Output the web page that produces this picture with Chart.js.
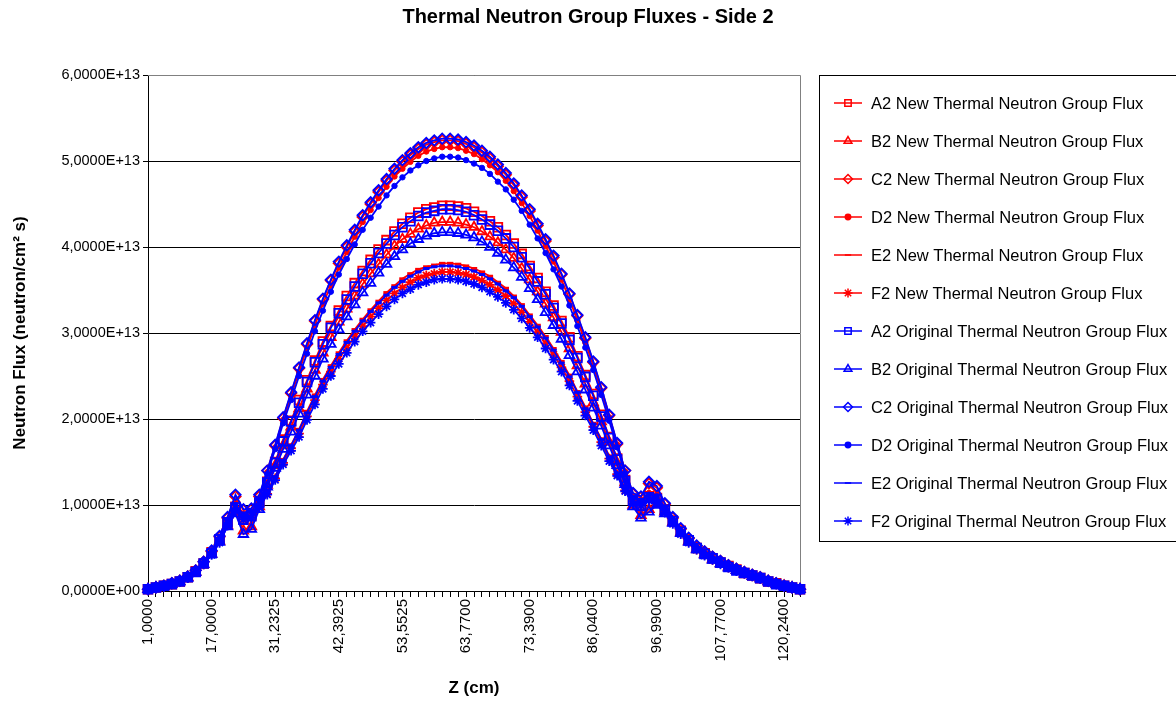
<!DOCTYPE html>
<html>
<head>
<meta charset="utf-8">
<script src="https://cdn.jsdelivr.net/npm/chart.js@4.4.0/dist/chart.umd.min.js"></script>
<style>
  html, body { margin: 0; padding: 0; background: #fff; }
  #wrap { width: 1176px; height: 701px; }
</style>
</head>
<body>
<div id="wrap"><canvas id="fluxChart"></canvas></div>
<script>
// Z positions shown on the axis (every 8th mesh point)
const zLabels = ['1,0000', '17,0000', '31,2325', '42,3925', '53,5525', '63,7700',
    '73,3900', '86,0400', '96,9900', '107,7700', '120,2400'];
const pointCount = 83;

// flux values in units of 1E+13 neutron/cm2 s
const a2New = [0.02,0.04,0.06,0.08,0.11,0.16,0.23,0.32,0.45,
    0.60,0.80,0.98,0.84,0.88,1.04,
    1.27,1.50,1.76,1.98,2.22,2.45,2.68,2.90,3.08,3.26,3.43,3.58,3.72,3.85,3.97,4.08,4.18,4.27,4.34,4.40,4.44,4.46,4.48,
    4.48,4.47,4.45,4.41,4.36,4.30,4.23,4.14,4.04,3.92,3.78,3.64,3.48,3.32,3.14,2.95,2.73,2.51,2.29,2.05,1.79,1.54,1.29,
    1.06,1.00,1.10,1.08,0.95,0.82,
    0.70,0.59,0.50,0.44,0.38,0.33,0.29,0.25,0.21,0.18,0.15,0.11,0.09,0.06,0.04,0.02];
const b2New = [0.02,0.04,0.05,0.08,0.11,0.16,0.22,0.31,0.43,
    0.58,0.76,0.92,0.70,0.75,0.98,
    1.23,1.46,1.69,1.91,2.12,2.35,2.57,2.77,2.95,3.13,3.28,3.43,3.57,3.69,3.80,3.91,4.01,4.09,4.15,4.21,4.25,4.28,4.29,
    4.29,4.28,4.26,4.23,4.18,4.12,4.05,3.97,3.87,3.75,3.62,3.48,3.34,3.18,3.01,2.82,2.62,2.41,2.19,1.97,1.73,1.49,1.26,
    1.00,0.88,0.95,1.02,0.92,0.80,
    0.68,0.58,0.49,0.43,0.37,0.32,0.28,0.24,0.20,0.17,0.15,0.11,0.08,0.06,0.04,0.02];
const c2New = [0.02,0.04,0.06,0.09,0.12,0.17,0.24,0.34,0.46,
    0.63,0.85,1.10,0.94,0.95,1.10,
    1.40,1.69,2.01,2.30,2.59,2.87,3.14,3.39,3.61,3.81,4.00,4.18,4.35,4.50,4.64,4.77,4.89,4.99,5.07,5.14,5.19,5.22,5.24,
    5.24,5.23,5.20,5.16,5.10,5.03,4.94,4.84,4.72,4.58,4.42,4.25,4.07,3.88,3.68,3.45,3.20,2.94,2.66,2.36,2.04,1.71,1.40,
    1.13,1.09,1.25,1.20,1.01,0.85,
    0.72,0.61,0.52,0.46,0.40,0.35,0.30,0.26,0.22,0.19,0.16,0.12,0.09,0.06,0.04,0.02];
const d2New = [0.02,0.04,0.06,0.09,0.12,0.16,0.23,0.33,0.46,
    0.62,0.83,1.02,0.90,0.93,1.08,
    1.38,1.67,1.99,2.27,2.55,2.83,3.09,3.34,3.55,3.76,3.94,4.12,4.29,4.43,4.57,4.70,4.82,4.91,4.99,5.06,5.11,5.14,5.16,
    5.16,5.15,5.12,5.08,5.02,4.95,4.87,4.77,4.65,4.51,4.36,4.19,4.01,3.83,3.62,3.39,3.15,2.89,2.62,2.33,2.02,1.70,1.39,
    1.10,1.06,1.14,1.12,0.98,0.84,
    0.71,0.60,0.52,0.45,0.39,0.34,0.29,0.25,0.21,0.18,0.15,0.12,0.09,0.06,0.04,0.02];
const e2New = [0.02,0.04,0.06,0.08,0.11,0.16,0.22,0.32,0.44,
    0.58,0.78,0.96,0.86,0.88,1.00,
    1.15,1.33,1.53,1.70,1.88,2.09,2.28,2.46,2.62,2.77,2.91,3.04,3.16,3.27,3.37,3.47,3.55,3.63,3.69,3.74,3.77,3.79,3.81,
    3.81,3.80,3.78,3.75,3.71,3.66,3.59,3.52,3.43,3.33,3.21,3.09,2.96,2.82,2.67,2.51,2.32,2.14,1.95,1.77,1.57,1.38,1.19,
    1.04,1.02,1.08,1.06,0.94,0.80,
    0.68,0.58,0.49,0.43,0.37,0.33,0.28,0.24,0.20,0.18,0.15,0.11,0.08,0.06,0.04,0.02];
const f2New = [0.02,0.04,0.05,0.08,0.11,0.15,0.22,0.31,0.43,
    0.57,0.77,0.94,0.84,0.86,0.98,
    1.13,1.31,1.49,1.66,1.83,2.03,2.22,2.40,2.55,2.70,2.83,2.96,3.08,3.19,3.29,3.38,3.46,3.53,3.59,3.64,3.67,3.69,3.71,
    3.71,3.70,3.68,3.65,3.61,3.56,3.50,3.43,3.34,3.24,3.13,3.01,2.88,2.75,2.60,2.44,2.26,2.08,1.91,1.73,1.54,1.36,1.17,
    1.02,1.00,1.06,1.04,0.92,0.79,
    0.67,0.57,0.48,0.42,0.36,0.32,0.27,0.24,0.20,0.17,0.14,0.11,0.08,0.05,0.04,0.02];

const a2Orig = [0.02,0.04,0.06,0.08,0.11,0.16,0.22,0.32,0.44,
    0.60,0.80,0.97,0.83,0.87,1.03,
    1.26,1.49,1.74,1.97,2.19,2.43,2.66,2.87,3.06,3.23,3.39,3.54,3.69,3.81,3.93,4.04,4.14,4.23,4.30,4.36,4.40,4.42,4.44,
    4.44,4.43,4.41,4.37,4.32,4.26,4.19,4.10,4.00,3.88,3.75,3.60,3.45,3.29,3.11,2.92,2.71,2.49,2.27,2.03,1.78,1.53,1.28,
    1.05,0.99,1.09,1.07,0.94,0.81,
    0.69,0.59,0.50,0.43,0.38,0.33,0.28,0.24,0.21,0.18,0.15,0.11,0.08,0.06,0.04,0.02];
const b2Orig = [0.02,0.04,0.05,0.08,0.11,0.15,0.22,0.31,0.43,
    0.57,0.75,0.90,0.66,0.72,0.95,
    1.21,1.43,1.65,1.85,2.06,2.28,2.50,2.70,2.87,3.04,3.19,3.33,3.47,3.58,3.70,3.80,3.89,3.97,4.04,4.09,4.13,4.16,4.17,
    4.17,4.16,4.14,4.11,4.06,4.00,3.93,3.85,3.76,3.65,3.52,3.39,3.24,3.09,2.93,2.74,2.55,2.34,2.13,1.92,1.69,1.46,1.24,
    0.98,0.85,0.92,1.00,0.90,0.79,
    0.67,0.57,0.48,0.42,0.36,0.32,0.27,0.24,0.20,0.17,0.14,0.11,0.08,0.05,0.04,0.02];
const c2Orig = [0.02,0.04,0.06,0.09,0.12,0.17,0.24,0.34,0.47,
    0.64,0.86,1.12,0.95,0.96,1.12,
    1.40,1.70,2.02,2.31,2.60,2.88,3.15,3.40,3.62,3.83,4.02,4.20,4.37,4.52,4.66,4.79,4.91,5.01,5.09,5.16,5.21,5.24,5.26,
    5.26,5.25,5.22,5.18,5.12,5.05,4.96,4.86,4.74,4.60,4.44,4.27,4.09,3.90,3.69,3.46,3.21,2.95,2.67,2.37,2.05,1.72,1.40,
    1.14,1.10,1.27,1.22,1.02,0.86,
    0.73,0.62,0.53,0.46,0.40,0.35,0.30,0.26,0.22,0.19,0.16,0.12,0.09,0.06,0.04,0.02];
const d2Orig = [0.02,0.04,0.06,0.09,0.11,0.16,0.23,0.33,0.45,
    0.61,0.82,1.00,0.89,0.92,1.06,
    1.36,1.65,1.95,2.22,2.50,2.76,3.02,3.26,3.48,3.68,3.86,4.03,4.20,4.34,4.47,4.60,4.71,4.81,4.89,4.95,5.00,5.03,5.05,
    5.05,5.04,5.01,4.97,4.92,4.85,4.76,4.67,4.55,4.42,4.26,4.10,3.93,3.74,3.54,3.32,3.08,2.83,2.57,2.28,1.98,1.67,1.37,
    1.08,1.05,1.12,1.10,0.97,0.83,
    0.70,0.60,0.51,0.44,0.38,0.34,0.29,0.25,0.21,0.18,0.15,0.12,0.09,0.06,0.04,0.02];
const e2Orig = [0.02,0.04,0.05,0.08,0.11,0.16,0.22,0.31,0.43,
    0.58,0.78,0.95,0.85,0.87,0.99,
    1.14,1.33,1.52,1.69,1.87,2.07,2.26,2.44,2.60,2.75,2.89,3.02,3.14,3.25,3.35,3.44,3.53,3.60,3.66,3.71,3.75,3.77,3.78,
    3.78,3.77,3.75,3.72,3.68,3.63,3.57,3.49,3.41,3.31,3.19,3.07,2.94,2.80,2.65,2.49,2.31,2.12,1.94,1.76,1.56,1.37,1.18,
    1.03,1.01,1.07,1.05,0.93,0.79,
    0.68,0.57,0.49,0.42,0.37,0.32,0.28,0.24,0.20,0.17,0.15,0.11,0.08,0.06,0.04,0.02];
const f2Orig = [0.02,0.03,0.05,0.08,0.11,0.15,0.22,0.31,0.42,
    0.56,0.76,0.93,0.83,0.85,0.97,
    1.12,1.29,1.47,1.63,1.79,1.99,2.17,2.35,2.50,2.64,2.77,2.90,3.02,3.12,3.22,3.31,3.39,3.46,3.51,3.56,3.59,3.62,3.63,
    3.63,3.62,3.60,3.57,3.53,3.48,3.42,3.35,3.27,3.17,3.06,2.95,2.82,2.69,2.55,2.39,2.21,2.04,1.87,1.69,1.51,1.34,1.16,
    1.01,0.99,1.05,1.03,0.91,0.78,
    0.66,0.56,0.48,0.41,0.36,0.31,0.27,0.23,0.20,0.17,0.14,0.11,0.08,0.05,0.03,0.02];

const yTicks = [0, 1, 2, 3, 4, 5, 6];

const seriesNames = [
    'A2 New Thermal Neutron Group Flux', 'B2 New Thermal Neutron Group Flux',
    'C2 New Thermal Neutron Group Flux', 'D2 New Thermal Neutron Group Flux',
    'E2 New Thermal Neutron Group Flux', 'F2 New Thermal Neutron Group Flux',
    'A2 Original Thermal Neutron Group Flux', 'B2 Original Thermal Neutron Group Flux',
    'C2 Original Thermal Neutron Group Flux', 'D2 Original Thermal Neutron Group Flux',
    'E2 Original Thermal Neutron Group Flux', 'F2 Original Thermal Neutron Group Flux'
];
const seriesData = [a2New, b2New, c2New, d2New, e2New, f2New,
    a2Orig, b2Orig, c2Orig, d2Orig, e2Orig, f2Orig];

const RED = '#ff0000';
const BLUE = '#0000ff';
const FONT = "'Liberation Sans', Arial, sans-serif";

// marker per letter A..F
const markers = [
    { style: 'rect', radius: 6.2, fill: false, width: 1.8 },
    { style: 'triangle', radius: 5.5, fill: false, width: 1.8 },
    { style: 'rectRot', radius: 5.2, fill: false, width: 1.8 },
    { style: 'circle', radius: 2.7, fill: true, width: 1 },
    { style: 'line', radius: 3.2, fill: true, width: 3 },
    { style: 'star', radius: 4.8, fill: false, width: 1.8 }
];

const categories = [];
for (let i = 0; i < pointCount; i++) {
    categories.push(i % 8 === 0 ? zLabels[i / 8] : '');
}

const datasets = seriesData.map((data, idx) => {
    const color = idx < 6 ? RED : BLUE;
    const m = markers[idx % 6];
    return {
        label: seriesNames[idx],
        data: data,
        borderColor: color,
        borderWidth: 1.8,
        pointStyle: m.style,
        pointRadius: m.radius,
        pointBorderWidth: m.width,
        pointBorderColor: color,
        pointBackgroundColor: m.fill ? color : 'rgba(0,0,0,0)',
        tension: 0,
        clip: false,
        order: 11 - idx
    };
});

function fmtFlux(v) {
    if (v === 0) return '0,0000E+00';
    return v.toFixed(4).replace('.', ',') + 'E+13';
}

const decorPlugin = {
    id: 'decor',
    beforeDatasetsDraw(chart) {
        const { ctx, chartArea: a } = chart;
        ctx.save();
        ctx.strokeStyle = '#808080';
        ctx.lineWidth = 1;
        ctx.beginPath();
        ctx.moveTo(a.left, a.top + 0.5);
        ctx.lineTo(a.right + 0.5, a.top + 0.5);
        ctx.lineTo(a.right + 0.5, a.bottom);
        ctx.stroke();
        ctx.restore();
    },
    afterDraw(chart) {
        const ctx = chart.ctx;
        ctx.save();
        // title
        ctx.fillStyle = '#000';
        ctx.font = 'bold 20px ' + FONT;
        ctx.textAlign = 'center';
        ctx.textBaseline = 'middle';
        ctx.fillText('Thermal Neutron Group Fluxes - Side 2', 588, 17);

        // legend box
        ctx.strokeStyle = '#000';
        ctx.lineWidth = 1;
        ctx.strokeRect(819.5, 75.5, 370, 466);
        ctx.font = '16.5px ' + FONT;
        ctx.textAlign = 'left';
        datasets.forEach((ds, k) => {
            const y = 103 + k * 38;
            ctx.strokeStyle = ds.borderColor;
            ctx.lineWidth = 1.5;
            ctx.beginPath();
            ctx.moveTo(834, y);
            ctx.lineTo(862, y);
            ctx.stroke();
            ctx.fillStyle = ds.pointBackgroundColor;
            ctx.strokeStyle = ds.borderColor;
            Chart.helpers.drawPoint(ctx, {
                pointStyle: ds.pointStyle,
                radius: Math.min(ds.pointRadius, 4.5),
                borderWidth: Math.min(ds.pointBorderWidth, 1.5),
                rotation: 0
            }, 848, y);
            ctx.fillStyle = '#000';
            ctx.fillText(ds.label, 871, y + 1);
        });
        ctx.restore();
    }
};

Chart.defaults.font.family = FONT;
Chart.defaults.color = '#000';

new Chart(document.getElementById('fluxChart'), {
    type: 'line',
    data: { labels: categories, datasets: datasets },
    options: {
        responsive: true,
        maintainAspectRatio: false,
        animation: false,
        events: [],
        layout: { padding: { top: 75, right: 376, bottom: 0, left: 0 } },
        plugins: {
            legend: { display: false },
            tooltip: { enabled: false },
            title: { display: false }
        },
        scales: {
            x: {
                type: 'category',
                offset: false,
                grid: { drawOnChartArea: false, drawTicks: true, tickLength: 6, color: '#000', offset: false },
                border: { color: '#000', width: 1 },
                ticks: {
                    autoSkip: false,
                    maxRotation: 90,
                    minRotation: 90,
                    padding: 2,
                    font: { size: 15 },
                    callback: (value, index) => categories[index]
                },
                title: { display: true, text: 'Z (cm)', font: { size: 17, weight: 'bold' }, padding: { top: 0, bottom: 2 } },
                afterFit: (scale) => { scale.height = 110; }
            },
            y: {
                min: yTicks[0],
                max: yTicks[yTicks.length - 1],
                afterBuildTicks: (scale) => { scale.ticks = yTicks.map(v => ({ value: v })); },
                grid: { color: '#000', tickLength: 5, drawTicks: true },
                border: { color: '#000', width: 1 },
                ticks: {
                    padding: 3,
                    font: { size: 14.5 },
                    callback: (v) => fmtFlux(v)
                },
                title: { display: true, text: 'Neutron Flux (neutron/cm² s)', font: { size: 17, weight: 'bold' }, padding: { top: 10, bottom: 0 } },
                afterFit: (scale) => { scale.width = 148; }
            }
        }
    },
    plugins: [decorPlugin]
});
</script>
</body>
</html>
